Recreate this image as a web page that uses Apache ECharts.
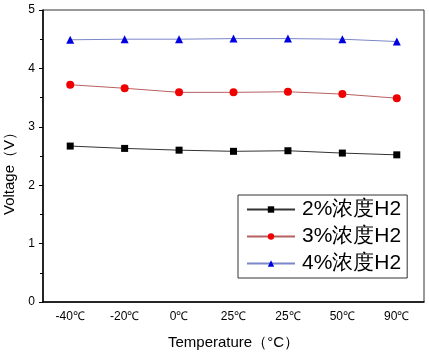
<!DOCTYPE html>
<html><head><meta charset="utf-8">
<script src="https://cdn.jsdelivr.net/npm/echarts@6/dist/echarts.min.js"></script>
<style>html,body{margin:0;padding:0;background:#fff}#c{width:429px;height:358px}</style>
</head><body><div id="c"></div>
<script>
const categories = ['-40℃','-20℃','0℃','25℃','25℃','50℃','90℃'];
const h2_2 = [2.67, 2.63, 2.60, 2.58, 2.59, 2.55, 2.52];
const h2_3 = [3.72, 3.66, 3.59, 3.59, 3.60, 3.56, 3.49];
const h2_4 = [4.49, 4.50, 4.50, 4.51, 4.51, 4.50, 4.46];
const seriesNames = ['2%浓度H2','3%浓度H2','4%浓度H2'];
const yTicks = [0,1,2,3,4,5];

const font = 'Liberation Sans, Arial, sans-serif';
const chart = echarts.init(document.getElementById('c'));
chart.setOption({
  animation:false,
  grid:{left:43,right:5,top:10,bottom:56,show:true,borderColor:'#333',borderWidth:1,
        containLabel:false, outerBoundsMode:'none'},
  legend:{
    orient:'vertical', left:238, top:195, width:167,
    padding:[4,6,4,8], itemGap:6,
    borderColor:'#333', borderWidth:1, backgroundColor:'#fff',
    itemWidth:48, itemHeight:8,
    textStyle:{fontSize:21,fontFamily:font,color:'#000',padding:[0,0,0,2]},
    data:seriesNames
  },
  xAxis:[{
    type:'category', data:categories, boundaryGap:true,
    name:'Temperature（°C）', nameLocation:'middle', nameGap:33,
    nameTextStyle:{fontSize:15,fontFamily:font,color:'#000'},
    axisLine:{lineStyle:{color:'#000',width:1.5}},
    axisTick:{alignWithLabel:true,length:4,lineStyle:{color:'#000'}},
    axisLabel:{fontSize:12,fontFamily:font,color:'#000',margin:9}
  },{
    type:'category', data:categories, boundaryGap:true, position:'bottom',
    axisLine:{show:false}, axisLabel:{show:false},
    axisTick:{length:3,lineStyle:{color:'#000'}}
  }],
  yAxis:{
    type:'value', min:0, max:5, interval:1,
    name:'Voltage（V）', nameLocation:'middle', nameGap:26,
    nameTextStyle:{fontSize:15,fontFamily:font,color:'#000',padding:[0,28,0,0]},
    axisLine:{show:true,lineStyle:{color:'#000',width:1.5}},
    axisTick:{show:true,length:4,lineStyle:{color:'#000'}},
    minorTick:{show:true,splitNumber:2,length:3,lineStyle:{color:'#000'}},
    splitLine:{show:false},
    axisLabel:{fontSize:12,fontFamily:font,color:'#000',margin:8}
  },
  series:[
    {name:seriesNames[0],type:'line',data:h2_2,symbol:'rect',symbolSize:7,
     lineStyle:{color:'#333',width:1},itemStyle:{color:'#000'}},
    {name:seriesNames[1],type:'line',data:h2_3,symbol:'circle',symbolSize:8,
     lineStyle:{color:'#b86060',width:1},itemStyle:{color:'#f00000'}},
    {name:seriesNames[2],type:'line',data:h2_4,symbol:'triangle',symbolSize:8,
     lineStyle:{color:'#7a86c8',width:1},itemStyle:{color:'#0000e0'}}
  ]
});
</script></body></html>
